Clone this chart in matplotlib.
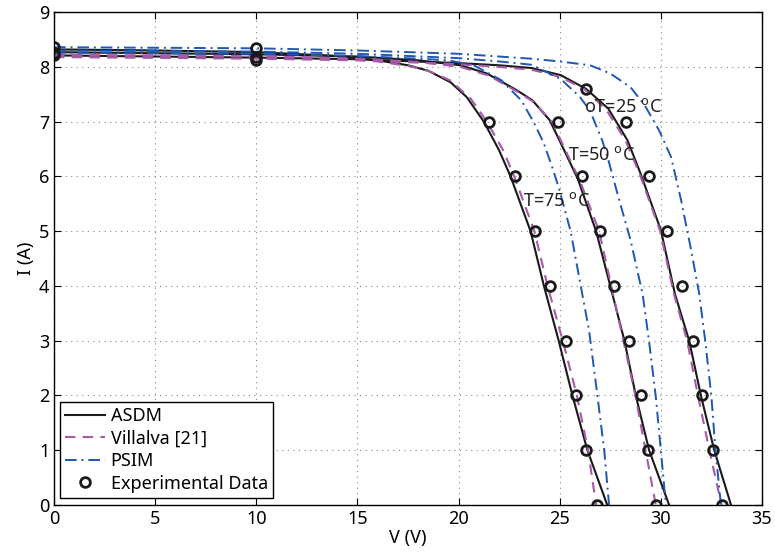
import matplotlib
matplotlib.use("Agg")
import matplotlib.pyplot as plt

plt.rcParams['font.family'] = ['Noto Sans', 'DejaVu Sans']

# ASDM model (black solid), one curve per temperature
asdm_v25 = [0, 10, 15, 20, 22, 23.6, 25.05, 26.3, 27.4, 28.35, 29.0, 30.0, 30.7, 31.4, 32.0, 32.64, 33.47]
asdm_i25 = [8.21, 8.17, 8.14, 8.07, 8.03, 7.98, 7.85, 7.6, 7.24, 6.66, 6.05, 5.02, 3.85, 3.0, 1.97, 1.0, 0]
asdm_v50 = [0, 10, 15, 18, 20.1, 21.4, 22.9, 23.65, 24.5, 25.0, 25.9, 26.8, 27.5, 28.2, 28.76, 29.42, 30.41]
asdm_i50 = [8.27, 8.23, 8.19, 8.12, 8.03, 7.88, 7.57, 7.39, 7.03, 6.65, 5.95, 5.0, 4.0, 3.0, 2.0, 1.0, 0]
asdm_v75 = [0, 5, 10, 14, 16, 17.5, 18.5, 19.6, 20.4, 21.25, 22.0, 22.57, 23.56, 24.22, 24.95, 25.63, 26.37, 27.35]
asdm_i75 = [8.32, 8.3, 8.27, 8.2, 8.12, 8.03, 7.93, 7.72, 7.45, 7.0, 6.48, 6.0, 5.0, 4.0, 3.0, 2.0, 1.0, 0]

# Villalva [21] (purple dashed)
vil_v25 = [0, 10, 15, 20, 22, 23.6, 25.0, 26.2, 27.3, 28.25, 28.95, 29.95, 30.65, 31.3, 31.85, 32.4, 33.0]
vil_i25 = [8.18, 8.15, 8.12, 8.05, 8.0, 7.95, 7.82, 7.6, 7.22, 6.66, 6.05, 5.02, 3.85, 3.0, 1.97, 1.0, 0]
vil_v50 = [0, 10, 15, 18, 20.1, 21.5, 23.0, 23.75, 24.65, 25.1, 26.0, 26.95, 27.55, 28.15, 28.75, 29.26, 29.75]
vil_i50 = [8.21, 8.19, 8.15, 8.09, 8.0, 7.84, 7.53, 7.35, 6.98, 6.62, 5.92, 5.0, 4.0, 3.0, 1.98, 0.97, 0]
vil_v75 = [0, 5, 10, 14, 16, 17.5, 18.5, 19.6, 20.6, 21.4, 22.2, 22.75, 23.75, 24.4, 25.15, 25.85, 26.4, 26.8]
vil_i75 = [8.22, 8.21, 8.2, 8.16, 8.1, 8.02, 7.93, 7.75, 7.42, 7.0, 6.48, 6.0, 5.0, 4.0, 3.0, 2.0, 1.0, 0]

# PSIM (blue dash-dot)
psim_v25 = [0, 10, 15, 20, 23.6, 25, 26.5, 27.5, 28.5, 29.2, 29.9, 30.5, 31.0, 31.5, 31.9, 32.2, 32.5, 32.7, 32.97]
psim_i25 = [8.36, 8.34, 8.3, 8.24, 8.15, 8.1, 8.03, 7.88, 7.63, 7.3, 6.85, 6.36, 5.57, 4.65, 3.85, 2.98, 1.98, 1.0, 0]
psim_v50 = [0, 10, 15, 20, 22, 23.6, 25.05, 26.0, 26.5, 27.1, 27.36, 27.94, 28.5, 29.1, 29.42, 29.75, 30.0, 30.25]
psim_i50 = [8.3, 8.28, 8.24, 8.16, 8.1, 8.04, 7.78, 7.45, 7.2, 6.66, 6.36, 5.57, 4.84, 3.85, 2.98, 1.98, 1.0, 0]
psim_v75 = [0, 10, 15, 18, 19.5, 20.75, 22.1, 23.1, 23.7, 24.2, 24.6, 24.95, 25.54, 26.04, 26.45, 26.87, 27.2, 27.44]
psim_i75 = [8.26, 8.24, 8.2, 8.15, 8.12, 8.03, 7.76, 7.39, 7.0, 6.62, 6.2, 5.8, 5.0, 4.0, 3.19, 1.98, 1.0, 0]

# experimental data (circles)
exp_v25 = [0, 10, 26.3, 28.3, 29.42, 30.3, 31.04, 31.6, 32.05, 32.6, 33.0]
exp_i25 = [8.21, 8.12, 7.6, 7.0, 6.0, 5.0, 4.0, 3.0, 2.0, 1.0, 0]
exp_v50 = [0, 10, 24.9, 26.1, 27.0, 27.7, 28.43, 29.04, 29.37, 29.75]
exp_i50 = [8.26, 8.18, 7.0, 6.0, 5.0, 4.0, 3.0, 2.0, 1.0, 0]
exp_v75 = [0, 10, 21.5, 22.77, 23.76, 24.5, 25.3, 25.79, 26.32, 26.82]
exp_i75 = [8.37, 8.35, 7.0, 6.0, 5.0, 4.0, 3.0, 2.0, 1.0, 0]

purple = '#a65aa8'
blue = '#1f57b5'

fig = plt.figure(figsize=(7.75, 5.55), dpi=100)
ax = fig.add_axes([0.0697, 0.0901, 0.9135, 0.888])

ax.plot(asdm_v25, asdm_i25, color='#1a1a1a', lw=1.5, label='ASDM')
ax.plot(asdm_v50, asdm_i50, color='#1a1a1a', lw=1.5)
ax.plot(asdm_v75, asdm_i75, color='#1a1a1a', lw=1.5)

ax.plot(vil_v25, vil_i25, color=purple, lw=1.5, ls=(0, (5, 3.5)), label='Villalva [21]')
ax.plot(vil_v50, vil_i50, color=purple, lw=1.5, ls=(0, (5, 3.5)))
ax.plot(vil_v75, vil_i75, color=purple, lw=1.5, ls=(0, (5, 3.5)))

ax.plot(psim_v25, psim_i25, color=blue, lw=1.4, ls=(0, (6, 2.5, 1, 2.5)), label='PSIM')
ax.plot(psim_v50, psim_i50, color=blue, lw=1.4, ls=(0, (6, 2.5, 1, 2.5)))
ax.plot(psim_v75, psim_i75, color=blue, lw=1.4, ls=(0, (6, 2.5, 1, 2.5)))

ms = dict(ls='none', marker='o', mfc='none', mec='#1a1a1a', mew=2, ms=7)
ax.plot(exp_v25, exp_i25, label='Experimental Data', **ms)
ax.plot(exp_v50, exp_i50, **ms)
ax.plot(exp_v75, exp_i75, **ms)

ax.text(26.2, 7.26, 'oT=25 $^{\\mathrm{o}}$C', fontsize=13, va='center', color='#222222')
ax.text(25.4, 6.39, 'T=50 $^{\\mathrm{o}}$C', fontsize=13, va='center', color='#222222')
ax.text(23.2, 5.55, 'T=75 $^{\\mathrm{o}}$C', fontsize=13, va='center', color='#222222')

ax.set_xlim(0, 35)
ax.set_ylim(0, 9)
ax.set_xticks(range(0, 36, 5))
ax.set_yticks(range(0, 10))
ax.grid(True, ls=(0, (1, 4)), color='#888888', lw=0.8)
ax.tick_params(direction='in', top=True, right=True, labelsize=13, length=5)
for s in ax.spines.values():
    s.set_linewidth(1.0)
ax.set_xlabel('V (V)', fontsize=13, labelpad=1)
ax.set_ylabel('I (A)', fontsize=13, labelpad=3)

leg = ax.legend(loc='lower left', bbox_to_anchor=(0.0085, 0.014), fontsize=13,
                frameon=True, fancybox=False, edgecolor='black', framealpha=1,
                handlelength=2.2, borderaxespad=0, labelspacing=0.25, borderpad=0.3,
                handletextpad=0.3)
leg.get_frame().set_linewidth(1.0)

fig.savefig('out.png', dpi=100)
